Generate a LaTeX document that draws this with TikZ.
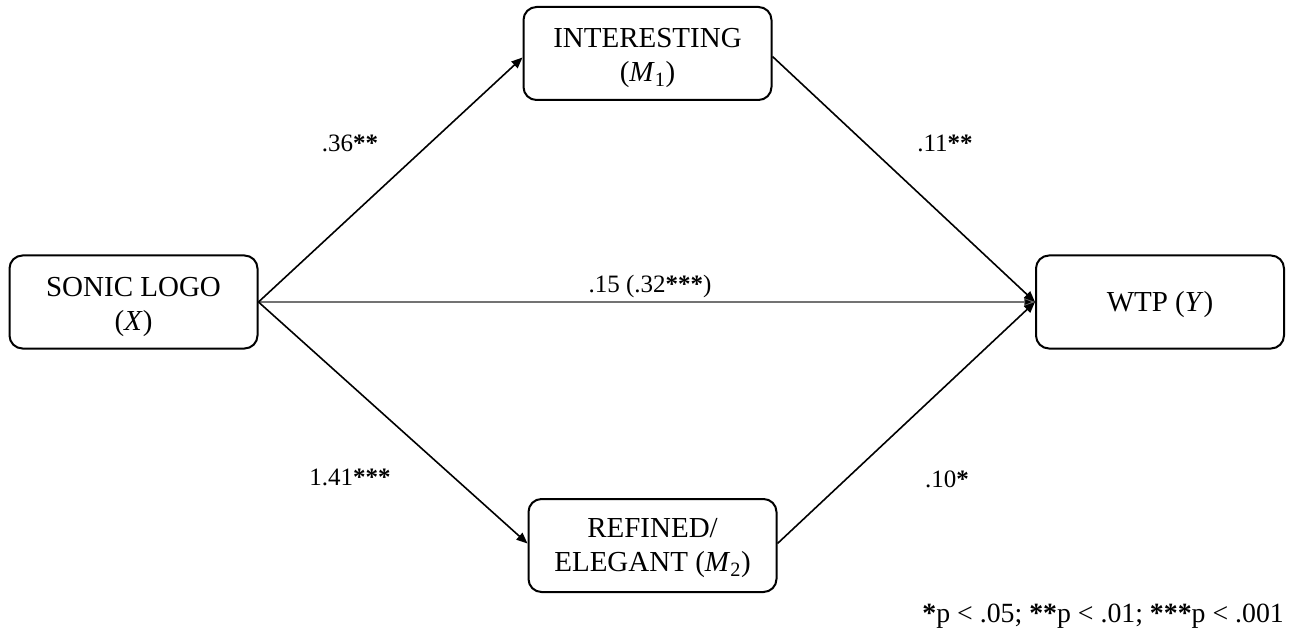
\documentclass[tikz,border=0pt]{standalone}
\usepackage{fontspec}
\setmainfont{Liberation Serif}
\usetikzlibrary{arrows.meta}
\newcommand{\stars}[1]{\textbf{#1}}
\begin{document}
\begin{tikzpicture}[x=1pt,y=-1pt,
  box/.style={draw, line width=2pt, rounded corners=13pt, minimum width=248pt,
    minimum height=93pt, inner sep=0pt},
  boxtext/.style={align=center, inner sep=0pt, font=\fontsize{29}{34}\selectfont},
  effect/.style={line width=1.6pt, -{Triangle[length=11pt,width=9pt]}},
  direct/.style={line width=1.2pt, draw=black!55, -{Triangle[length=11pt,width=9pt,fill=black]}},
  coef/.style={anchor=base, inner sep=0pt, font=\fontsize{25}{30}\selectfont}]
\useasboundingbox (0,0) rectangle (1295,636);

% variable boxes
\node[box] (x)  at (133.5,302)   {};
\node[box] (m1) at (647.5,53.5)  {};
\node[box] (y)  at (1160,302)    {};
\node[box] (m2) at (652.5,545.5) {};

% box labels
\node[boxtext] (xt)  at ([yshift=-4.5pt]x.center)  {SONIC LOGO\\(\textit{X})};
\node[boxtext] (m1t) at ([yshift=-4.5pt]m1.center) {INTERESTING\\(\textit{M}\textsubscript{1})};
\node[boxtext] (yt)  at ([yshift=-3pt]y.center)    {WTP (\textit{Y})};
\node[boxtext] (m2t) at ([yshift=-3pt]m2.center)   {REFINED/\\ELEGANT (\textit{M}\textsubscript{2})};

% paths
\draw[direct] (x.east) -- (y.west);
\draw[effect] (x.east) -- ([yshift=-4pt]m1.west);
\draw[effect] (x.east) -- ([yshift=2pt]m2.west);
\draw[effect] ([yshift=-3pt]m1.east) -- (y.west);
\draw[effect] ([yshift=2pt]m2.east) -- (y.west);

% coefficients
\node[coef] (a1) at (350,152) {.36\stars{**}};
\node[coef] (b1) at (945,152) {.11\stars{**}};
\node[coef] (c)  at (650,292) {.15 (.32\stars{***})};
\node[coef] (a2) at (350,485) {1.41\stars{***}};
\node[coef] (b2) at (947,487) {.10\stars{*}};

% significance note
\node[anchor=base east, inner sep=0pt, font=\fontsize{27.8}{32}\selectfont]
  (note) at (1284,622) {\stars{*}p < .05; \stars{**}p < .01; \stars{***}p < .001};
\end{tikzpicture}
\end{document}
